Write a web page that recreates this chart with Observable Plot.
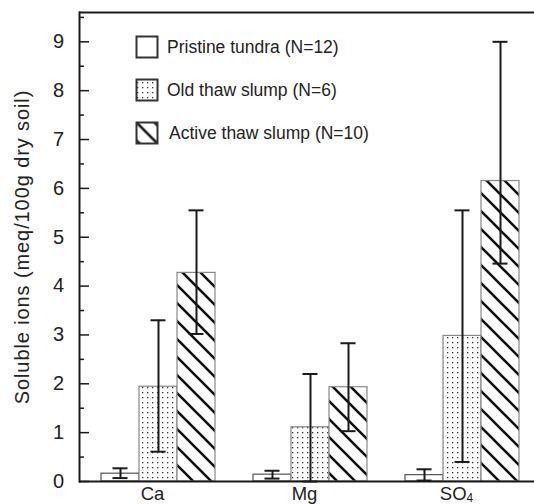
<!DOCTYPE html>
<html><head><meta charset="utf-8">
<script src="https://cdn.jsdelivr.net/npm/d3@7"></script>
<script src="https://cdn.jsdelivr.net/npm/@observablehq/plot@0.6"></script>
<style>html,body{margin:0;padding:0;background:#fff;overflow:hidden}</style>
</head><body><div id="chart"></div>
<script>
// ---- data ----
const ions = ["Ca", "Mg", "SO4"];
const sites = ["Pristine tundra (N=12)", "Old thaw slump (N=6)", "Active thaw slump (N=10)"];
const pristineMean = [0.16, 0.14, 0.13];
const pristineLow  = [0.07, 0.06, 0.02];
const pristineHigh = [0.27, 0.22, 0.25];
const oldMean = [1.94, 1.11, 2.98];
const oldLow  = [0.61, 0.00, 0.40];
const oldHigh = [3.30, 2.20, 5.55];
const activeMean = [4.27, 1.93, 6.15];
const activeLow  = [3.02, 1.03, 4.46];
const activeHigh = [5.55, 2.83, 9.00];
const yTicks = [0, 1, 2, 3, 4, 5, 6, 7, 8, 9];
const yMinorTicks = [0.5, 1.5, 2.5, 3.5, 4.5, 5.5, 6.5, 7.5, 8.5, 9.5];
const yTop = 9.6;
const yLabel = "Soluble ions (meq/100g dry soil)";

// ---- styles ----
const siteFills = ["white", "url(#dots)", "url(#hatch)"];

// ---- build table ----
const seriesMean = [pristineMean, oldMean, activeMean];
const seriesLow = [pristineLow, oldLow, activeLow];
const seriesHigh = [pristineHigh, oldHigh, activeHigh];
const rows = [];
sites.forEach((site, j) => ions.forEach((ion, i) => rows.push({
  site, j, ion, key: ion + "|" + j,
  mean: seriesMean[j][i], low: seriesLow[j][i], high: seriesHigh[j][i]
})));
const slots = [];
ions.forEach((ion, i) => {
  sites.forEach((s, j) => slots.push(ion + "|" + j));
  if (i < ions.length - 1) slots.push(ion + "|gap");
});
const labelKeys = ions.map(ion => ion + "|1");

const plot = Plot.plot({
  width: 534, height: 504,
  marginLeft: 79, marginRight: 0, marginTop: 12, marginBottom: 23,
  style: {fontFamily: "'Liberation Sans', Arial, sans-serif", fontSize: "20px", color: "#222", background: "white", overflow: "hidden"},
  x: {type: "band", domain: slots, range: [79, 540], paddingInner: 0, paddingOuter: 0.5, axis: null},
  y: {domain: [0, yTop], axis: null},
  marks: [
    ...sites.map((s, j) => Plot.barY(rows.filter(d => d.j === j), {x: "key", y: "mean", fill: siteFills[j], stroke: j === 0 ? "#555" : "#888", strokeWidth: 1.2})),
    Plot.ruleX(rows, {x: "key", y1: "low", y2: "high", stroke: "#1a1a1a", strokeWidth: 2}),
    Plot.tickY(rows, {x: "key", y: "high", stroke: "#1a1a1a", strokeWidth: 2, insetLeft: 11.5, insetRight: 11.5}),
    Plot.tickY(rows, {x: "key", y: "low", stroke: "#1a1a1a", strokeWidth: 2, insetLeft: 11.5, insetRight: 11.5}),
    Plot.ruleY([0, yTop], {stroke: "#1a1a1a", strokeWidth: 2}),
    Plot.frame({anchor: "left", stroke: "#1a1a1a", strokeWidth: 2}),
    Plot.axisY({ticks: yTicks, tickSize: 10, dx: 10, tickFormat: () => "", label: null, stroke: "#1a1a1a", strokeWidth: 1.5}),
    Plot.axisY({ticks: yMinorTicks, tickSize: 5, dx: 5, tickFormat: () => "", label: null, stroke: "#1a1a1a", strokeWidth: 1.5}),
    Plot.axisY({ticks: yTicks, tickSize: 0, tickPadding: 15.5, fontSize: 20, label: yLabel, labelAnchor: "center", labelOffset: 65, labelArrow: "none"}),
    Plot.axisX({ticks: labelKeys, tickSize: 0, tickPadding: 5, fontSize: 18.5, dx: -6, tickFormat: k => k.split("|")[0], label: null})
  ]
});
document.getElementById("chart").appendChild(plot);

const svg = d3.select(plot);
// patterns
const defs = svg.insert("defs", ":first-child");
const dots = defs.append("pattern").attr("id", "dots").attr("patternUnits", "userSpaceOnUse").attr("width", 5).attr("height", 5);
dots.append("rect").attr("width", 5).attr("height", 5).attr("fill", "white");
dots.append("rect").attr("x", 2).attr("y", 2).attr("width", 1.3).attr("height", 1.3).attr("fill", "#333");
function hatch(id, x0, y0) {
  const p = defs.append("pattern").attr("id", id).attr("patternUnits", "userSpaceOnUse").attr("width", 18).attr("height", 18).attr("x", x0).attr("y", y0);
  p.append("rect").attr("width", 18).attr("height", 18).attr("fill", "white");
  p.append("path").attr("d", "M0,0L18,18M-9,9L9,27M9,-9L27,9").attr("stroke", "#111").attr("stroke-width", 2.6);
}
hatch("hatch", 0, 0);
hatch("hatchLegend", 136.5, 122.5);

// subscript on SO4
svg.selectAll("text").filter(function() { return this.textContent === "SO4"; }).each(function() {
  const t = d3.select(this);
  t.text("SO");
  t.append("tspan").attr("dy", "0.18em").attr("font-size", "12px").text("4");
});
// y label
svg.selectAll("text").filter(function() { return this.textContent === yLabel; }).attr("font-size", "20px").style("letter-spacing", "0.9px");

// legend
const legendFills = ["white", "url(#dots)", "url(#hatchLegend)"];
const lg = svg.append("g").attr("font-size", "17.5px").attr("fill", "#222").attr("text-anchor", "start");
sites.forEach((s, j) => {
  const y = 36.5 + j * 43;
  lg.append("rect").attr("x", 136.5).attr("y", y).attr("width", 21).attr("height", 21)
    .attr("fill", legendFills[j]).attr("stroke", "#333").attr("stroke-width", 2);
  lg.append("text").attr("x", j === 2 ? 169 : 167).attr("y", y + 10.5).attr("dy", "0.35em").text(s);
});
</script></body></html>
